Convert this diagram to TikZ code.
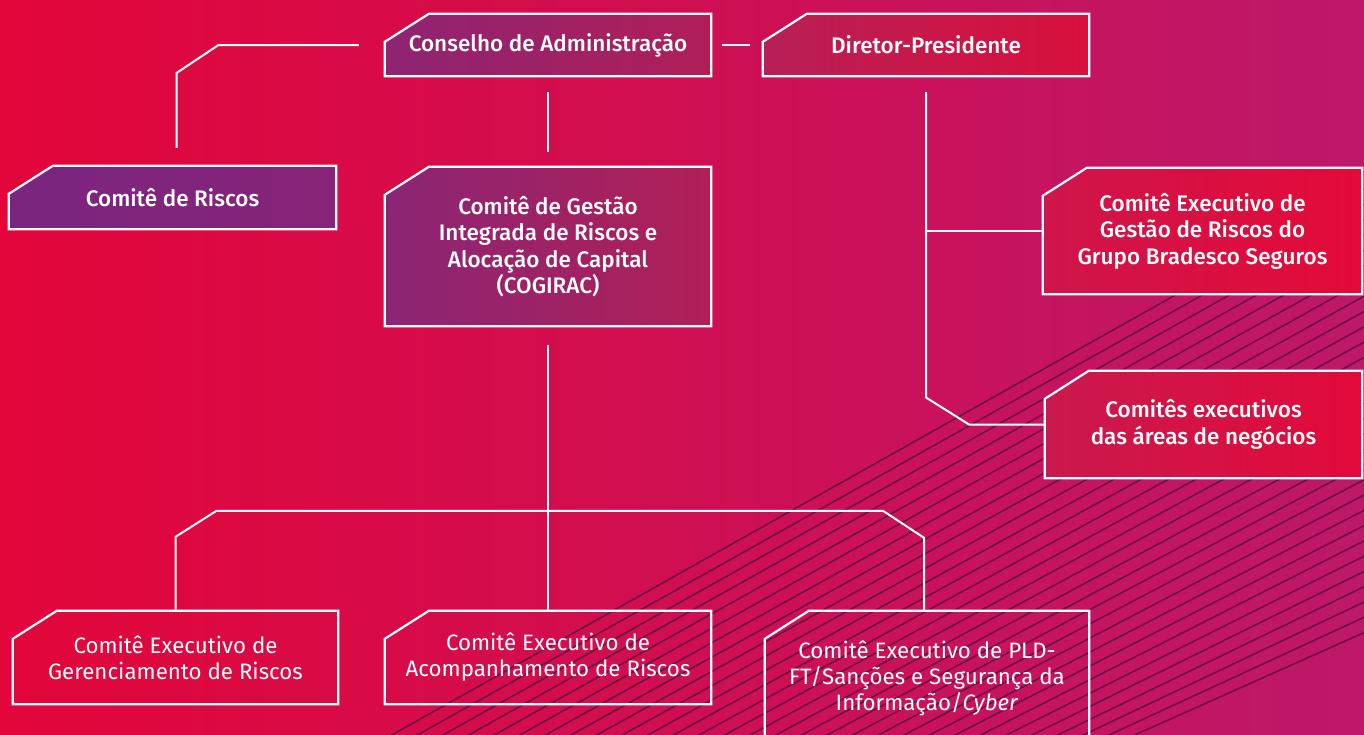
\documentclass[tikz,border=0pt]{standalone}
\usepackage{fontspec}
\setmainfont{Fira Sans}
\newfontfamily\semibold{Fira Sans Medium}
\usetikzlibrary{calc}

\pgfdeclarelayer{background}
\pgfsetlayers{background,main}

\definecolor{bgleft}{HTML}{E2063A}
\definecolor{bgright}{HTML}{BD186A}
\definecolor{hatchline}{HTML}{730E44}
\definecolor{consL}{HTML}{8E2472}
\definecolor{consR}{HTML}{B01E58}
\definecolor{dirL}{HTML}{B71F57}
\definecolor{dirR}{HTML}{D9103C}
\definecolor{riscosL}{HTML}{7A2580}
\definecolor{riscosR}{HTML}{872477}
\definecolor{cogiracL}{HTML}{8B2575}
\definecolor{cogiracR}{HTML}{B11F56}
\definecolor{gestaoL}{HTML}{CF154B}
\definecolor{gestaoR}{HTML}{E30A38}
\definecolor{areasL}{HTML}{C9194E}
\definecolor{areasR}{HTML}{E20A3A}

% box outline with the top left corner cut off
\newcommand{\chambox}[2]{%
	\path[#2] (#1.south west) -- (#1.south east) -- (#1.north east)
		-- ([xshift=44pt]#1.north west) -- ([yshift=-28pt]#1.north west) -- cycle;}

\begin{document}
\begin{tikzpicture}[x=1pt, y=-1pt,
	conn/.style={draw=white, line width=2pt},
	edge/.style={draw=white, line width=2.2pt},
	hatch/.style={draw=hatchline, line width=1.6pt},
	orgbox/.style={text=white, align=center, inner sep=0pt, font=\semibold\fontsize{22.5}{26.5}\selectfont},
	subbox/.style={orgbox, font=\fontsize{22.3}{26}\selectfont}]
	
	\useasboundingbox (0,0) rectangle (1364,734);
	
	% Top level
	\node[orgbox, minimum width=326pt, minimum height=62pt] (cons) at (548,45) {Conselho de Administração};
	\node[orgbox, minimum width=326pt, minimum height=62pt] (dir) at (926,45) {Diretor-Presidente};
	
	% Committees below the board and the president
	\node[orgbox, minimum width=327pt, minimum height=63pt] (riscos) at (172.5,197.5) {Comitê de Riscos};
	\node[orgbox, minimum width=326pt, minimum height=159pt] (cogirac) at (548,246.5) {Comitê de Gestão\\Integrada de Riscos e\\Alocação de Capital\\(COGIRAC)};
	\node[orgbox, minimum width=319pt, minimum height=126pt] (gestao) at (1202.5,231) {Comitê Executivo de\\Gestão de Riscos do\\Grupo Bradesco Seguros};
	\node[orgbox, minimum width=317pt, minimum height=107pt] (areas) at (1203.5,424.5) {Comitês executivos\\das áreas de negócios};
	
	% Executive committees below COGIRAC
	\node[subbox, minimum width=325pt, minimum height=93pt] (ger) at (175.5,657.5) {Comitê Executivo de\\Gerenciamento de Riscos};
	\node[subbox, minimum width=326pt, minimum height=93pt] (acomp) at (548,657.5) {Comitê Executivo de\\Acompanhamento de Riscos};
	\node[subbox, minimum width=324pt, minimum height=134pt] (pld) at (927,678) {Comitê Executivo de PLD-\\FT/Sanções e Segurança da\\Informação/\textit{Cyber}};
	
	% Connectors
	\draw[conn] ($(cons.west)+(-26,0)$) -- ($(riscos.north |- cons.west)+(46,0)$)
		-- ($(riscos.north |- cons.west)+(4,28)$) -- ($(riscos.north)+(4,-18)$);
	\draw[conn] ($(cons.east)+(11,0)$) -- ($(dir.west)+(-13,0)$);
	\draw[conn] ($(cons.south)+(0,16)$) -- ($(cogirac.north)+(0,-15)$);
	\draw[conn] ($(dir.south)+(0,16)$) -- ($(dir.south |- areas.west)+(0,-27)$)
		-- ($(dir.south |- areas.west)+(43,0)$) -- (areas.west);
	\draw[conn] (dir.south |- gestao.west) -- (gestao.west);
	\draw[conn] ($(cogirac.south)+(0,19)$) -- (acomp.north);
	\draw[conn] (ger.north) -- ++(0,-74) -- ++(41,-26) -- ($(pld.north)+(-44,-100)$)
		-- ++(41,27) -- ($(pld.north)+(-3,0)$);
	
	\begin{pgfonlayer}{background}
		\clip (0,0) rectangle (1364,734);
		\shade[left color=bgleft, right color=bgright] (0,0) rectangle (1364,734);
		
		% Diagonal stripes in the lower right
		\foreach \i in {0,...,29}{
			\pgfmathsetmacro{\bx}{390+25.6*\i}
			\pgfmathsetmacro{\ry}{188+15.3*\i}
			\draw[hatch] (\bx,736) -- (1366,\ry);
		}
		
		\chambox{cons}{edge, left color=consL, right color=consR}
		\chambox{dir}{edge, left color=dirL, right color=dirR}
		\chambox{riscos}{edge, left color=riscosL, right color=riscosR}
		\chambox{cogirac}{edge, left color=cogiracL, right color=cogiracR}
		\chambox{gestao}{edge, left color=gestaoL, right color=gestaoR}
		\chambox{areas}{edge, left color=areasL, right color=areasR}
		\chambox{ger}{edge}
		\chambox{acomp}{edge}
		\chambox{pld}{edge}
	\end{pgfonlayer}
	
\end{tikzpicture}
\end{document}
